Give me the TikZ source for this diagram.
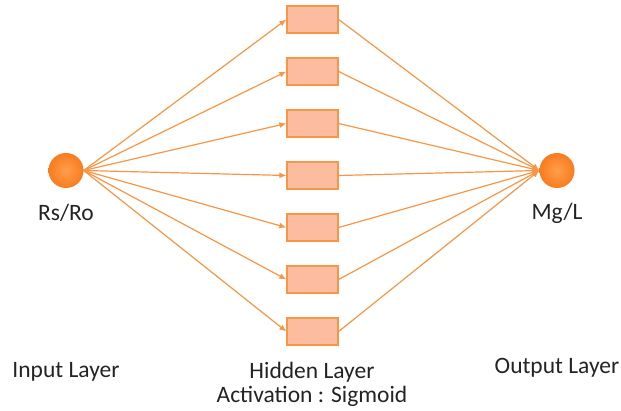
\documentclass[tikz,border=0pt]{standalone}
\usepackage{fontspec}
\setmainfont{Carlito}
\usetikzlibrary{arrows.meta}
\definecolor{lineor}{RGB}{248,150,70}
\definecolor{boxfill}{RGB}{252,188,160}
\definecolor{ballor}{RGB}{248,124,30}
\definecolor{balllight}{RGB}{255,158,76}
\definecolor{txt}{RGB}{35,35,35}
\tikzset{
  neuron/.style={circle,minimum size=35pt,inner sep=0pt,draw=none,inner color=balllight,outer color=ballor},
  hbox/.style={rectangle,minimum width=51pt,minimum height=27pt,inner sep=0pt,fill=boxfill,draw=lineor,line width=1.3pt},
  conn/.style={draw=lineor,line width=1.2pt,-{Latex[length=7pt,width=6pt]}},
  lbl/.style={font=\fontsize{23.5}{28}\selectfont,text=txt,inner sep=0pt}
}
\begin{document}
\begin{tikzpicture}[x=1pt,y=-1pt]
\useasboundingbox (0,0) rectangle (621,411);
\node[neuron] (in) at (66,170.5) {};
\node[neuron] (out) at (557,170.5) {};
\foreach \i in {1,...,7}{
  \node[hbox] (h\i) at (312.5,{19.5+52*(\i-1)}) {};
}
\foreach \i in {1,...,7}{
  \draw[conn] (in.east) -- (h\i.west);
  \draw[conn] (h\i.east) -- (out.west);
}
\node[lbl] (lin) at (66,213) {Rs/Ro};
\node[lbl] (lout) at (557,213) {Mg/L};
\node[lbl] (til) at (66,372) {Input Layer};
\node[lbl] (thl) at (312,372) {Hidden Layer};
\node[lbl] (tact) at (312,396) {Activation : Sigmoid};
\node[lbl] (tol) at (557,368) {Output Layer};
\end{tikzpicture}
\end{document}
